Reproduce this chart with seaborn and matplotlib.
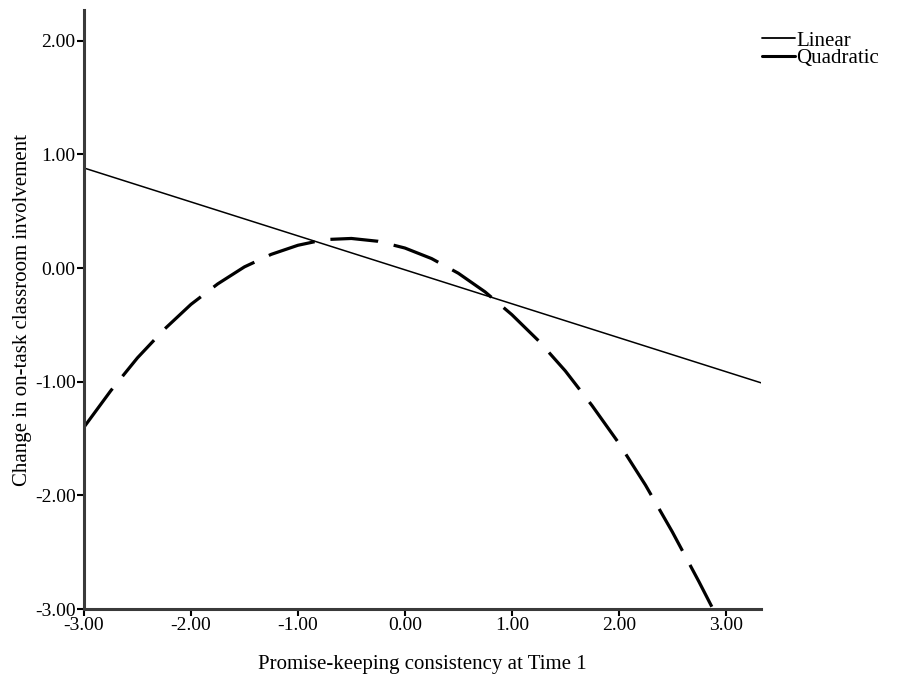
import matplotlib
matplotlib.use('Agg')
import matplotlib.pyplot as plt
import numpy as np
import pandas as pd
import seaborn as sns

sns.set_style('ticks')
plt.rcParams['font.family'] = ['Liberation Serif', 'DejaVu Serif']
plt.rcParams['axes.unicode_minus'] = False
plt.rcParams['text.color'] = 'black'
plt.rcParams['axes.labelcolor'] = 'black'
plt.rcParams['xtick.color'] = 'black'
plt.rcParams['ytick.color'] = 'black'

# fitted lines
lin_x = [-3.00, 3.33]
lin_y = [0.88, -1.01]

quad_x = [-3.00, -2.75, -2.50, -2.25, -2.00, -1.75, -1.50, -1.25, -1.00, -0.75,
          -0.50, -0.25, 0.00, 0.25, 0.50, 0.75, 1.00, 1.25, 1.50, 1.75,
          2.00, 2.25, 2.50, 2.75, 2.87]
quad_y = [-1.40, -1.08, -0.79, -0.54, -0.32, -0.14, 0.01, 0.12, 0.20, 0.25,
          0.26, 0.235, 0.176, 0.083, -0.046, -0.21, -0.41, -0.64, -0.905, -1.21,
          -1.54, -1.91, -2.32, -2.76, -2.98]

xticks = [-3, -2, -1, 0, 1, 2, 3]
yticks = [-3, -2, -1, 0, 1, 2]

lin_df = pd.DataFrame({'x': lin_x, 'y': lin_y})
quad_df = pd.DataFrame({'x': quad_x, 'y': quad_y})

fig = plt.figure(figsize=(8.98, 6.88), dpi=100)
ax = fig.add_axes([84/898, 1-609/688, (761-84)/898, (609-10)/688])

sns.lineplot(data=lin_df, x='x', y='y', ax=ax, color='black', lw=1.1,
             label='Linear', sort=False)
sns.lineplot(data=quad_df, x='x', y='y', ax=ax, color='black', lw=2.3,
             label='Quadratic', sort=False)
ax.lines[1].set_dashes([15, 5])

ax.set_xlim(-3, 3.33)
ax.set_ylim(-3, 2.27)
ax.set_xticks(xticks)
ax.set_yticks(yticks)
ax.set_xticklabels(['%.2f' % t for t in xticks], fontsize=14)
ax.set_yticklabels(['%.2f' % t for t in yticks], fontsize=14)
ax.tick_params(direction='out', length=5, width=1.5, color='black', pad=1)

for s in ['top', 'right']:
    ax.spines[s].set_visible(False)
for s in ['left', 'bottom']:
    ax.spines[s].set_linewidth(2.2)
    ax.spines[s].set_color('#3a3a3a')

ax.set_xlabel('Promise-keeping consistency at Time 1', fontsize=15, labelpad=15)
ax.set_ylabel('Change in on-task classroom involvement', fontsize=15, labelpad=2)

leg = ax.legend(loc='upper left', bbox_to_anchor=(762/898, 1-31/688),
                bbox_transform=fig.transFigure, frameon=False, fontsize=15,
                handlelength=1.6, handletextpad=0.05, labelspacing=-0.1,
                borderaxespad=0, borderpad=0)
for h, w in zip(leg.get_lines(), [1.3, 2.2]):
    h.set_linestyle('-')
    h.set_linewidth(w)

plt.savefig('out.png', dpi=100)
